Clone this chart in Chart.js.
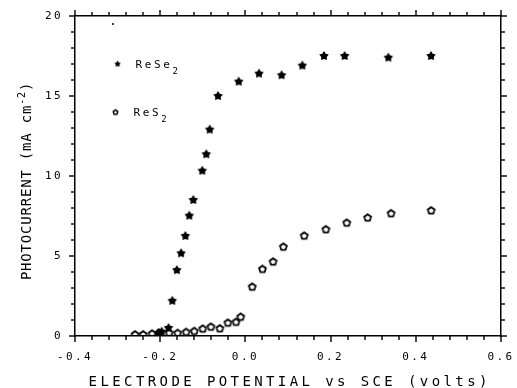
<!DOCTYPE html>
<html>
<head>
<meta charset="utf-8">
<script src="https://cdn.jsdelivr.net/npm/chart.js@4"></script>
<style>
  html, body { margin: 0; padding: 0; background: #fff; }
  #wrap { width: 517px; height: 388px; }
</style>
</head>
<body>
<div id="wrap"><canvas id="chart" width="517" height="388"></canvas></div>
<script>
// ReSe2 (filled stars)
const reSe2X = [-0.205, -0.1965, -0.1805, -0.1716, -0.161, -0.151, -0.141, -0.1317, -0.1223,
  -0.1012, -0.0918, -0.0838, -0.0643, -0.0157, 0.032, 0.085, 0.1336, 0.1845, 0.233, 0.3355, 0.4357];
const reSe2Y = [0.18, 0.27, 0.5, 2.2, 4.12, 5.17, 6.25, 7.52, 8.5,
  10.33, 11.36, 12.9, 15.0, 15.9, 16.4, 16.3, 16.9, 17.5, 17.5, 17.4, 17.5];

// ReS2 (open pentagons)
const reS2X = [-0.259, -0.240, -0.219, -0.202, -0.179, -0.159, -0.139, -0.120, -0.100, -0.081,
  -0.060, -0.041, -0.022, -0.011, 0.016, 0.040, 0.065, 0.089, 0.138, 0.189, 0.238, 0.287, 0.342, 0.436];
const reS2Y = [0.1, 0.1, 0.15, 0.2, 0.2, 0.19, 0.25, 0.31, 0.46, 0.58,
  0.48, 0.83, 0.88, 1.2, 3.08, 4.19, 4.65, 5.58, 6.27, 6.67, 7.08, 7.4, 7.67, 7.85];

// stray plotter dot near the top left
const strayX = [-0.311];
const strayY = [19.5];

// legend anchor, in data units
const legendLabels = ["ReSe", "ReS"];
const legendX = [-0.3, -0.305];
const legendY = [17, 14];

const xMin = -0.4, xMax = 0.6, xStep = 0.04;
const yMin = 0, yMax = 20, yStep = 1;

const FONT = '"DejaVu Sans Mono", "Liberation Mono", monospace';

function toPoints(xs, ys) {
  return xs.map((x, i) => ({ x, y: ys[i] }));
}

function starCanvas(outer, inner) {
  const size = Math.ceil(outer * 2 + 2);
  const c = document.createElement("canvas");
  c.width = size; c.height = size;
  const g = c.getContext("2d");
  g.translate(size / 2, size / 2);
  g.beginPath();
  for (let i = 0; i < 10; i++) {
    const r = i % 2 === 0 ? outer : inner;
    const a = -Math.PI / 2 + i * Math.PI / 5;
    g.lineTo(r * Math.cos(a), r * Math.sin(a));
  }
  g.closePath();
  g.fillStyle = "#000";
  g.fill();
  return c;
}

function pentagonCanvas(r, lw) {
  const size = Math.ceil(r * 2 + lw + 2);
  const c = document.createElement("canvas");
  c.width = size; c.height = size;
  const g = c.getContext("2d");
  g.translate(size / 2, size / 2 + 0.3);
  g.beginPath();
  for (let i = 0; i < 5; i++) {
    const a = -Math.PI / 2 + i * 2 * Math.PI / 5;
    g.lineTo(r * Math.cos(a), r * Math.sin(a));
  }
  g.closePath();
  g.lineWidth = lw;
  g.strokeStyle = "#000";
  g.stroke();
  return c;
}

const starImg = starCanvas(5, 2.9);
const pentImg = pentagonCanvas(3.6, 1.8);
const starSmall = starCanvas(3.4, 1.9);
const pentSmall = pentagonCanvas(2.4, 1.5);

function isMajorX(v) {
  return Math.abs(v * 5 - Math.round(v * 5)) < 1e-6;
}
function isMajorY(v) {
  return Math.abs(v / 5 - Math.round(v / 5)) < 1e-6;
}

function tickValues(min, max, step) {
  const out = [];
  const n = Math.round((max - min) / step);
  for (let i = 0; i <= n; i++) out.push(min + i * step);
  return out;
}

function drawSpaced(ctx, text, x, y, spacing) {
  ctx.letterSpacing = spacing + "px";
  ctx.fillText(text, x, y);
  return ctx.measureText(text).width;
}

// outward tick marks on all four sides, minor short and major long
function drawTicks(ctx, scale, area, side, vals, isMajor) {
  for (const v of vals) {
    const len = isMajor(v) ? 6 : 4;
    const p = Math.round(scale.getPixelForValue(v));
    if (side === "bottom") ctx.fillRect(p - 0.7, area.bottom, 1.4, len);
    if (side === "top") ctx.fillRect(p - 0.7, area.top - len, 1.4, len);
    if (side === "left") ctx.fillRect(area.left - len, p - 0.7, len, 1.4);
    if (side === "right") ctx.fillRect(area.right, p - 0.7, len, 1.4);
  }
}

const plotterText = {
  id: "plotterText",
  beforeDraw(chart) {
    chart.ctx.letterSpacing = "2.4px";
  },
  afterDraw(chart) {
    const { ctx, chartArea, scales } = chart;
    const xv = tickValues(xMin, xMax, xStep);
    const yv = tickValues(yMin, yMax, yStep);
    ctx.save();
    ctx.letterSpacing = "0px";
    ctx.fillStyle = "#000";
    drawTicks(ctx, scales.x, chartArea, "bottom", xv, isMajorX);
    drawTicks(ctx, scales.x, chartArea, "top", xv, isMajorX);
    drawTicks(ctx, scales.y, chartArea, "left", yv, isMajorY);
    drawTicks(ctx, scales.y, chartArea, "right", yv, isMajorY);

    ctx.textBaseline = "alphabetic";
    ctx.textAlign = "left";

    // x axis title
    ctx.font = "14px " + FONT;
    ctx.letterSpacing = "3.4px";
    const xt = "ELECTRODE POTENTIAL vs SCE (volts)";
    const xw = ctx.measureText(xt).width;
    ctx.fillText(xt, (chartArea.left + chartArea.right) / 2 - xw / 2 + 1.7, 386);

    // y axis title, rotated, with superscript
    ctx.save();
    ctx.translate(31, 181);
    ctx.rotate(-Math.PI / 2);
    ctx.font = "14px " + FONT;
    ctx.letterSpacing = "0.8px";
    const p1 = "PHOTOCURRENT (mA cm";
    const w1 = ctx.measureText(p1).width;
    ctx.font = "10px " + FONT;
    const w2 = ctx.measureText("-2").width;
    ctx.font = "14px " + FONT;
    const w3 = ctx.measureText(")").width;
    let cx = -(w1 + w2 + w3) / 2;
    ctx.fillText(p1, cx, 0);
    cx += w1;
    ctx.font = "10px " + FONT;
    ctx.fillText("-2", cx, -6);
    cx += w2;
    ctx.font = "14px " + FONT;
    ctx.fillText(")", cx, 0);
    ctx.restore();

    // legend
    const imgs = [starSmall, pentSmall];
    legendLabels.forEach((lab, i) => {
      const px = scales.x.getPixelForValue(legendX[i]);
      const py = scales.y.getPixelForValue(legendY[i]);
      const im = imgs[i];
      ctx.drawImage(im, px - im.width / 2, py - im.height / 2);
      ctx.font = "11px " + FONT;
      const w = drawSpaced(ctx, lab, px + 18, py + 4, 2.6);
      ctx.font = "9px " + FONT;
      drawSpaced(ctx, "2", px + 18 + w, py + 10, 1);
    });
    ctx.restore();
  },
};

// library tick marks kept for spacing only, drawn transparent
const axisCommon = {
  type: "linear",
  border: { display: true, color: "#000", width: 1.5 },
  grid: { display: true, drawOnChartArea: false, drawTicks: true, tickLength: 4, color: "rgba(0,0,0,0)", tickColor: "rgba(0,0,0,0)" },
};

function pinX(s, h) {
  s.height = h;
  s.paddingLeft = 0;
  s.paddingRight = 0;
}
function pinY(s, w) {
  s.width = w;
  s.paddingTop = 0;
  s.paddingBottom = 0;
}

new Chart(document.getElementById("chart"), {
  type: "scatter",
  data: {
    datasets: [
      {
        label: "ReSe2",
        data: toPoints(reSe2X, reSe2Y),
        pointStyle: starImg,
        pointRadius: 5,
      },
      {
        label: "ReS2",
        data: toPoints(reS2X, reS2Y),
        pointStyle: pentImg,
        pointRadius: 4,
      },
      {
        label: "",
        data: toPoints(strayX, strayY),
        pointStyle: "circle",
        pointRadius: 1,
        backgroundColor: "#000",
        borderWidth: 0,
      },
    ],
  },
  plugins: [plotterText],
  options: {
    responsive: false,
    animation: false,
    events: [],
    layout: { padding: { top: 16, right: 16, left: 0, bottom: 0 } },
    plugins: { legend: { display: false }, tooltip: { enabled: false } },
    scales: {
      x: {
        ...axisCommon,
        position: "bottom",
        min: xMin, max: xMax,
        afterFit(s) { pinX(s, 52); },
        ticks: {
          stepSize: xStep, autoSkip: false, maxTicksLimit: 100, maxRotation: 0,
          padding: 11, color: "#000",
          font: { family: FONT, size: 11 },
          callback(v) {
            if (!isMajorX(v)) return "";
            return Math.abs(v) < 1e-9 ? "0.0" : v.toFixed(1);
          },
        },
      },
      x2: {
        ...axisCommon,
        position: "top",
        min: xMin, max: xMax,
        afterFit(s) { pinX(s, 0); },
        ticks: { display: false, stepSize: xStep, maxTicksLimit: 100 },
      },
      y: {
        ...axisCommon,
        position: "left",
        min: yMin, max: yMax,
        afterFit(s) { pinY(s, 75); },
        ticks: {
          stepSize: yStep, autoSkip: false, maxTicksLimit: 100,
          padding: 8, color: "#000",
          font: { family: FONT, size: 11 },
          callback(v) { return isMajorY(v) ? String(v) : ""; },
        },
      },
      y2: {
        ...axisCommon,
        position: "right",
        min: yMin, max: yMax,
        afterFit(s) { pinY(s, 0); },
        ticks: { display: false, stepSize: yStep, maxTicksLimit: 100 },
      },
    },
  },
});
</script>
</body>
</html>
